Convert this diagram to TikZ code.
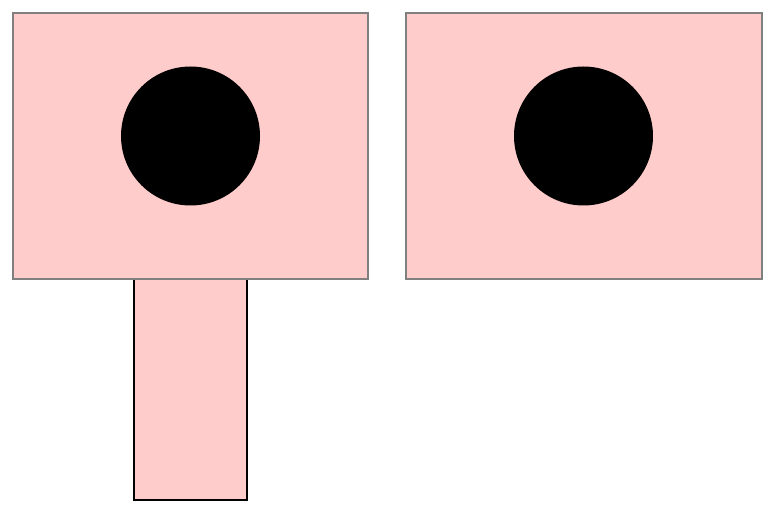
\documentclass[tikz,border=0pt]{standalone}
\definecolor{pinkfill}{RGB}{255,204,204}
\definecolor{edgegray}{RGB}{128,128,128}
\tikzset{
  panel/.style={fill=pinkfill, draw=edgegray, line width=2pt},
  stem/.style={fill=pinkfill, draw=black, line width=2pt},
  dot/.style={fill=black, draw=none}
}
\begin{document}
\begin{tikzpicture}[x=1pt,y=-1pt]
\useasboundingbox (0,0) rectangle (769,505);
\draw[stem] (134,260) rectangle (247,500);
\draw[panel] (13,13) rectangle (368,279);
\draw[panel] (406,13) rectangle (762,279);
\fill[dot] (190.5,136) circle (69.5);
\fill[dot] (583.5,136) circle (69.5);
\end{tikzpicture}
\end{document}
